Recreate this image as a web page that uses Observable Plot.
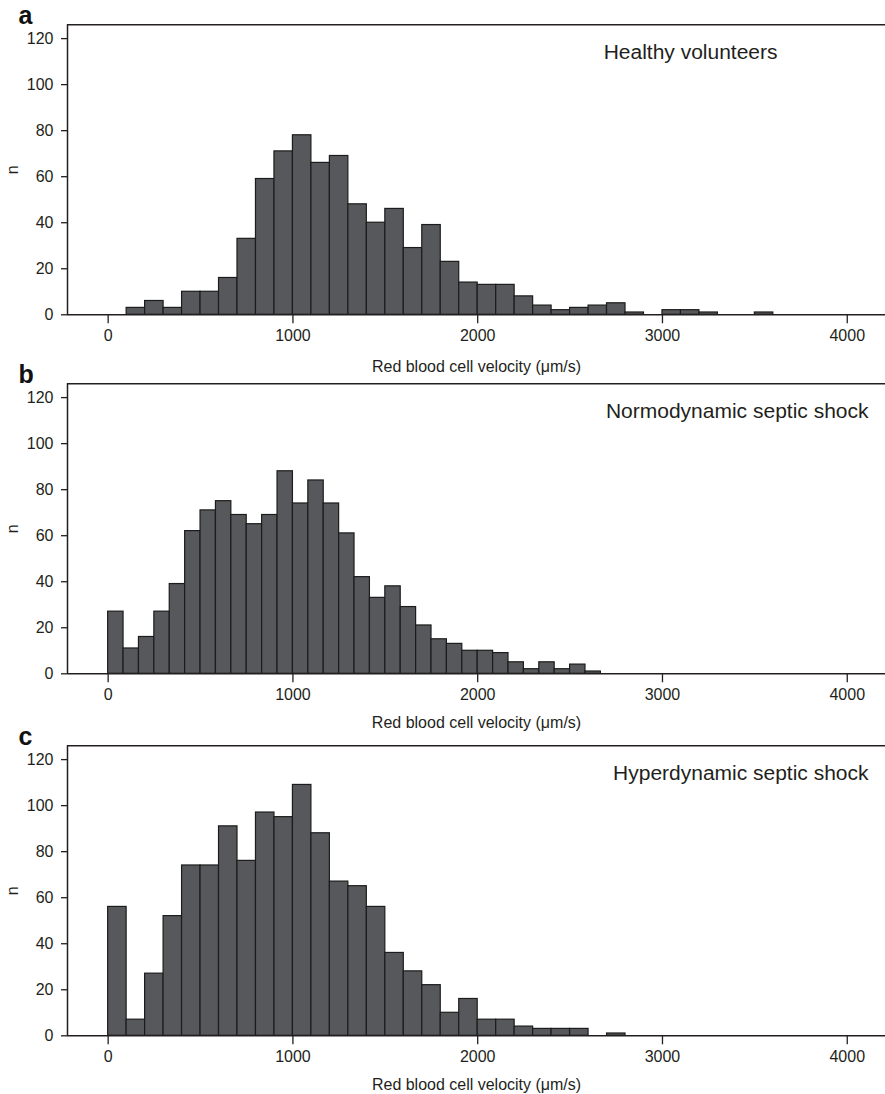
<!DOCTYPE html>
<html><head><meta charset="utf-8">
<script src="https://cdn.jsdelivr.net/npm/d3@7"></script>
<script src="https://cdn.jsdelivr.net/npm/@observablehq/plot@0.6"></script>
<style>
body{margin:0;background:#fff;}
#chart svg{display:block;}
</style></head><body><div id="chart"></div>
<script>
// ---- data ----
const panelLetters = ["a", "b", "c"];
const panelTitles = ["Healthy volunteers", "Normodynamic septic shock", "Hyperdynamic septic shock"];
// counts per bin, bins starting at 0 µm/s
const healthyCounts = [0, 3, 6, 3, 10, 10, 16, 33, 59, 71, 78, 66, 69, 48, 40, 46, 29, 39, 23, 14, 13, 13, 8, 4, 2, 3, 4, 5, 1, 0, 2, 2, 1, 0, 0, 1];
const normoCounts = [27, 11, 16, 27, 39, 62, 71, 75, 69, 65, 69, 88, 74, 84, 74, 61, 42, 33, 38, 29, 21, 15, 13, 10, 10, 9, 5, 2, 5, 2, 4, 1];
const hyperCounts = [56, 7, 27, 52, 74, 74, 91, 76, 97, 95, 109, 88, 67, 65, 56, 36, 28, 22, 10, 16, 7, 7, 4, 3, 3, 3, 0, 1];
const binWidths = [100, 1000 / 12, 100];
const xTicks = [0, 1000, 2000, 3000, 4000];
const yTicks = [0, 20, 40, 60, 80, 100, 120];
const xLabel = "Red blood cell velocity (μm/s)";
const yLabel = "n";

const allCounts = [healthyCounts, normoCounts, hyperCounts];
const heights = [358.7, 362, 373.3];
const titleDx = [-108, -17, -17];
const xLabelOffsets = [57, 54, 54];
const xDomain = [-220, 4207];
const yDomain = [0, 126];
const ink = "#231f20";

function panel(i) {
  const w = binWidths[i];
  const bins = allCounts[i].map((n, k) => ({x1: k * w, x2: (k + 1) * w, n})).filter(d => d.n > 0);
  const plotH = 290;
  return Plot.plot({
    width: 885,
    height: heights[i],
    marginLeft: 67,
    marginRight: 0,
    marginTop: 24.3,
    marginBottom: heights[i] - 24.3 - plotH,
    style: {fontFamily: "'Liberation Sans', Arial, Helvetica, sans-serif", fontSize: "16px", color: ink, background: "#fff", overflow: "visible"},
    x: {domain: xDomain},
    y: {domain: yDomain},
    marks: [
      Plot.rectY(bins, {x1: "x1", x2: "x2", y: "n", fill: "#57585b", stroke: "#1c1c1c", strokeWidth: 1.2, inset: 0}),
      Plot.ruleY([yDomain[0]], {stroke: ink, strokeWidth: 1.5}),
      Plot.ruleY([yDomain[1]], {stroke: ink, strokeWidth: 1.5}),
      Plot.ruleX([xDomain[0]], {stroke: ink, strokeWidth: 1.5}),
      Plot.axisY({ticks: yTicks, tickSize: 6, tickPadding: 8, label: yLabel, labelAnchor: "center", labelArrow: "none", labelOffset: 61, fontSize: 16, strokeWidth: 1.3, tickFormat: d => String(d)}),
      Plot.axisX({ticks: xTicks, tickSize: 9, tickPadding: 6, label: xLabel, labelAnchor: "center", labelArrow: "none", labelOffset: xLabelOffsets[i], fontSize: 16, strokeWidth: 1.3, tickFormat: d => String(d)}),
      Plot.text([panelLetters[i]], {frameAnchor: "top-left", text: d => d, dx: -49, dy: -1, lineAnchor: "bottom", textAnchor: "start", fontSize: 25, fontWeight: "bold", fill: "#111"}),
      Plot.text([panelTitles[i]], {frameAnchor: "top-right", text: d => d, dx: titleDx[i], dy: 27, lineAnchor: "middle", textAnchor: "end", fontSize: 21, fill: ink})
    ]
  });
}

const root = document.getElementById("chart");
for (let i = 0; i < 3; i++) root.appendChild(panel(i));
</script>
</body></html>
